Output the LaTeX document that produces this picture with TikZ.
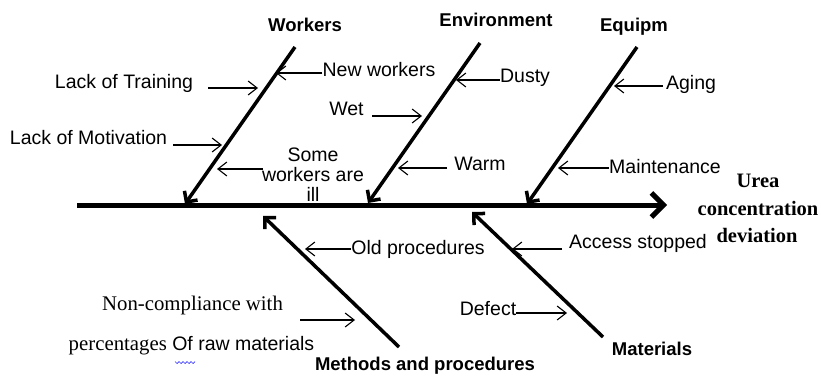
\documentclass[tikz,border=0pt]{standalone}
\usepackage{fontspec}
\setmainfont{Liberation Sans}
\newfontfamily\tnr{Liberation Serif}
\usetikzlibrary{arrows.meta}
\begin{document}
\begin{tikzpicture}[x=1pt,y=-1pt,
  lbl/.style={font=\fontsize{19.5}{20}\selectfont, inner sep=0pt, text height=14pt, text depth=4pt},
  slbl/.style={font=\tnr\fontsize{20.8}{21}\selectfont, inner sep=0pt, text height=14pt, text depth=4pt},
  cat/.style={font=\bfseries\fontsize{18.5}{19}\selectfont, inner sep=0pt, text height=13pt, text depth=4pt},
  eff/.style={font=\tnr\bfseries\fontsize{20.5}{21}\selectfont, inner sep=0pt, text height=14pt, text depth=4pt},
  spine/.style={line width=5pt, -{Straight Barb[length=12pt,width=24pt]}},
  bone/.style={line width=3.5pt, -{Straight Barb[length=8pt,width=16pt]}},
  sub/.style={line width=1.1pt, -{Straight Barb[length=9pt,width=14pt]}}
]
\useasboundingbox (0,0) rectangle (821,377);

% spine
\coordinate (sL) at (77,205);
\coordinate (sR) at (667,205);
\draw[spine] (sL) -- (sR);

% bones
\coordinate (wT) at (295,47);  \coordinate (wB) at (185,204);
\coordinate (eT) at (480,43);  \coordinate (eB) at (368,203);
\coordinate (qT) at (637,47);  \coordinate (qB) at (527,204);
\coordinate (mT) at (399,347); \coordinate (mB) at (263,216);
\coordinate (aT) at (603,337); \coordinate (aB) at (472,212);
\draw[bone] (wT) -- (wB);
\draw[bone] (eT) -- (eB);
\draw[bone] (qT) -- (qB);
\draw[bone] (mT) -- (mB);
\draw[bone] (aT) -- (aB);

% category labels
\node[cat] (workers) at (305,27) {Workers};
\node[cat] (env) at (496,22) {Environment};
\node[cat] (equip) at (634,27) {Equipm};
\node[cat] (methods) at (425,366) {Methods and procedures};
\node[cat] (materials) at (652,351) {Materials};

% effect
\node[eff] (urea) at (758,182) {Urea};
\node[eff] (conc) at (758,210) {concentration};
\node[eff] (dev) at (757,237) {deviation};

% sub-causes: workers
\node[lbl] (train) at (124,84) {Lack of Training};
\coordinate (trainS) at (208,88); \coordinate (trainE) at (258,88);
\draw[sub] (trainS) -- (trainE);
\node[lbl] (motiv) at (88.5,139) {Lack of Motivation};
\coordinate (motivS) at (173,145); \coordinate (motivE) at (222,145);
\draw[sub] (motivS) -- (motivE);
\node[lbl] (neww) at (379,72) {New workers};
\coordinate (newwE) at (276,73);
\draw[sub] (neww.west |- newwE) -- (newwE);
\node[align=center, inner sep=0pt, font=\fontsize{19.5}{20}\selectfont] (ill) at (313,175) {Some\\workers are\\ill};
\coordinate (illS) at (263,169); \coordinate (illE) at (217,169);
\draw[sub] (illS) -- (illE);

% sub-causes: environment
\node[lbl] (wet) at (346.5,110) {Wet};
\coordinate (wetS) at (372,116); \coordinate (wetE) at (422,116);
\draw[sub] (wetS) -- (wetE);
\node[lbl] (dusty) at (525,78) {Dusty};
\coordinate (dustyE) at (456,80);
\draw[sub] (dusty.west |- dustyE) -- (dustyE);
\node[lbl] (warm) at (480,165) {Warm};
\coordinate (warmS) at (447,168); \coordinate (warmE) at (398,168);
\draw[sub] (warmS) -- (warmE);

% sub-causes: equipment
\node[lbl] (aging) at (691,85) {Aging};
\coordinate (agingS) at (663,86); \coordinate (agingE) at (614,86);
\draw[sub] (agingS) -- (agingE);
\node[lbl] (maint) at (665,168) {Maintenance};
\coordinate (maintS) at (609,168); \coordinate (maintE) at (558,168);
\draw[sub] (maintS) -- (maintE);

% sub-causes: methods
\node[lbl] (oldp) at (418,249) {Old procedures};
\coordinate (oldpE) at (305,249);
\draw[sub] (oldp.west |- oldpE) -- (oldpE);
\node[slbl] (nonc) at (192.5,305) {Non-compliance with};
\node[lbl] (perc) at (191.5,345) {{\tnr\fontsize{20.8}{21}\selectfont percentages} Of raw materials};
\coordinate (noncS) at (300,320); \coordinate (noncE) at (355,320);
\draw[sub] (noncS) -- (noncE);
\draw[blue!80, line width=0.7pt] (175,361.5) -- (177,363.5) -- (179,361.5) -- (181,363.5) -- (183,361.5) -- (185,363.5) -- (187,361.5) -- (189,363.5) -- (191,361.5) -- (193,363.5) -- (195,361.5);

% sub-causes: materials
\node[lbl] (access) at (638,243) {Access stopped};
\coordinate (accessS) at (562,249); \coordinate (accessE) at (512,249);
\draw[sub] (accessS) -- (accessE);
\node[lbl] (defect) at (488,310) {Defect};
\coordinate (defectE) at (567,313);
\draw[sub] (defect.east |- defectE) -- (defectE);
\end{tikzpicture}
\end{document}
